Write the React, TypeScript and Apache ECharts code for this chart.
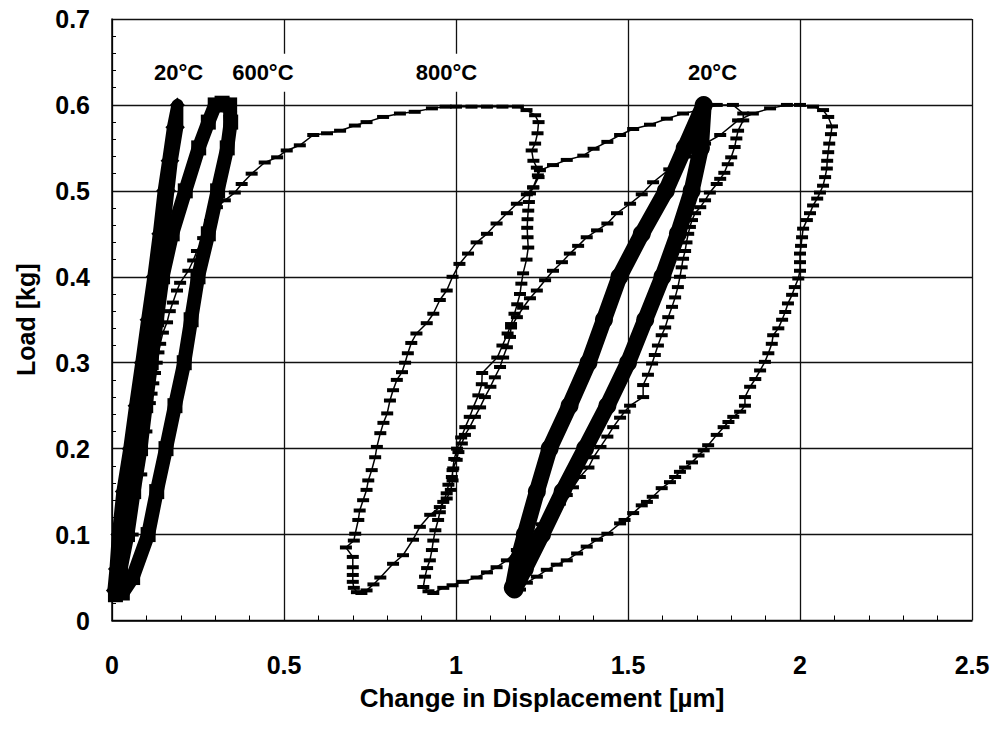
import React, { useEffect, useRef } from "react";
import * as echarts from "echarts";

const FONT = '"Liberation Sans", Arial, Helvetica, sans-serif';

// Load [kg] vs change in displacement [µm], one closed cycle per temperature step.
const loop20First: [number, number][] = [
  [0.004, 0.035], [0.01, 0.06], [0.017, 0.1], [0.03, 0.15], [0.05, 0.2], [0.067, 0.25],
  [0.085, 0.3], [0.102, 0.35], [0.12, 0.4], [0.136, 0.45], [0.15, 0.5], [0.163, 0.535],
  [0.177, 0.574], [0.19, 0.6], [0.19, 0.574], [0.174, 0.535], [0.164, 0.5], [0.152, 0.458],
  [0.136, 0.4], [0.118, 0.35], [0.101, 0.3], [0.083, 0.25], [0.066, 0.2], [0.047, 0.15],
  [0.033, 0.1], [0.018, 0.06], [0.012, 0.035],
];

const loop600: [number, number][] = [
  [0.01, 0.03], [0.025, 0.06], [0.045, 0.1], [0.063, 0.15], [0.083, 0.2], [0.098, 0.25],
  [0.114, 0.3], [0.13, 0.35], [0.147, 0.4], [0.175, 0.45], [0.213, 0.5], [0.252, 0.55],
  [0.28, 0.58], [0.3, 0.6], [0.32, 0.602], [0.342, 0.6], [0.345, 0.58], [0.335, 0.55],
  [0.307, 0.5], [0.28, 0.45], [0.25, 0.4], [0.23, 0.35], [0.21, 0.3], [0.183, 0.25],
  [0.157, 0.2], [0.13, 0.15], [0.105, 0.1], [0.06, 0.05], [0.03, 0.032],
];

const run800: [number, number][] = [
  // first loading
  [0.03, 0.035], [0.06, 0.1], [0.085, 0.17], [0.1, 0.22], [0.11, 0.253], [0.115, 0.264],
  [0.12, 0.276], [0.125, 0.288], [0.13, 0.3], [0.135, 0.312], [0.14, 0.322], [0.148, 0.335],
  [0.16, 0.347], [0.168, 0.36], [0.177, 0.37], [0.189, 0.384], [0.198, 0.393], [0.222, 0.407],
  [0.236, 0.419], [0.247, 0.43], [0.265, 0.445], [0.285, 0.465], [0.305, 0.481], [0.328, 0.489],
  [0.357, 0.498], [0.377, 0.508], [0.406, 0.52], [0.444, 0.533], [0.48, 0.539], [0.508, 0.547],
  [0.546, 0.553], [0.585, 0.565], [0.625, 0.567], [0.663, 0.57], [0.706, 0.576], [0.74, 0.58],
  [0.788, 0.586], [0.837, 0.59], [0.88, 0.592], [0.93, 0.596], [0.97, 0.598], [1.0, 0.598],
  [1.045, 0.598], [1.09, 0.598], [1.135, 0.598], [1.18, 0.598], [1.205, 0.594], [1.23, 0.588],
  // first unloading
  [1.24, 0.58], [1.237, 0.567], [1.23, 0.555], [1.22, 0.547], [1.225, 0.535], [1.235, 0.527],
  [1.24, 0.516], [1.225, 0.504], [1.215, 0.497], [1.212, 0.487], [1.21, 0.477], [1.208, 0.467],
  [1.207, 0.457], [1.208, 0.446], [1.21, 0.434], [1.205, 0.42], [1.195, 0.404], [1.19, 0.392],
  [1.186, 0.38], [1.178, 0.368], [1.17, 0.357], [1.16, 0.345], [1.15, 0.334], [1.135, 0.32],
  [1.12, 0.306], [1.076, 0.288], [1.075, 0.275], [1.065, 0.262], [1.05, 0.248], [1.04, 0.237],
  [1.027, 0.225], [1.015, 0.213], [1.003, 0.2], [0.995, 0.188], [0.99, 0.175], [0.99, 0.163],
  [0.985, 0.152], [0.973, 0.142], [0.953, 0.132], [0.925, 0.123], [0.895, 0.109], [0.875, 0.094],
  [0.846, 0.076], [0.817, 0.066], [0.78, 0.05], [0.76, 0.042], [0.74, 0.035], [0.725, 0.032],
  [0.712, 0.033], [0.703, 0.038], [0.7, 0.045], [0.7, 0.053], [0.7, 0.062], [0.7, 0.074],
  [0.68, 0.085], [0.703, 0.093],
  // second loading
  [0.707, 0.101], [0.716, 0.117], [0.72, 0.128], [0.73, 0.14], [0.74, 0.152], [0.745, 0.163],
  [0.755, 0.175], [0.765, 0.19], [0.77, 0.202], [0.78, 0.218], [0.789, 0.23], [0.8, 0.241],
  [0.808, 0.256], [0.817, 0.268], [0.828, 0.28], [0.843, 0.289], [0.852, 0.3], [0.86, 0.311],
  [0.87, 0.323], [0.885, 0.334], [0.915, 0.346], [0.934, 0.357], [0.953, 0.373], [0.973, 0.384],
  [0.99, 0.4], [1.01, 0.415], [1.035, 0.427], [1.06, 0.44], [1.09, 0.45], [1.118, 0.462],
  [1.148, 0.474], [1.177, 0.485], [1.206, 0.496], [1.224, 0.504], [1.238, 0.518], [1.244, 0.524],
  [1.282, 0.53], [1.322, 0.536], [1.37, 0.541], [1.4, 0.549], [1.44, 0.557], [1.477, 0.565],
  [1.515, 0.572], [1.564, 0.577], [1.613, 0.584], [1.66, 0.59], [1.71, 0.594], [1.758, 0.6],
  [1.805, 0.6], [1.835, 0.59],
  // second unloading
  [1.835, 0.582], [1.82, 0.57], [1.815, 0.561], [1.81, 0.551], [1.8, 0.539], [1.79, 0.531],
  [1.78, 0.521], [1.768, 0.514], [1.758, 0.508], [1.738, 0.498], [1.724, 0.489], [1.71, 0.481],
  [1.695, 0.474], [1.686, 0.466], [1.68, 0.458], [1.675, 0.45], [1.67, 0.44], [1.666, 0.43],
  [1.66, 0.421], [1.656, 0.411], [1.651, 0.4], [1.645, 0.388], [1.637, 0.376], [1.628, 0.365],
  [1.617, 0.353], [1.608, 0.341], [1.598, 0.332], [1.587, 0.32], [1.578, 0.309], [1.57, 0.299],
  [1.558, 0.286], [1.544, 0.274], [1.544, 0.26], [1.506, 0.25], [1.49, 0.243], [1.477, 0.236],
  [1.457, 0.225], [1.44, 0.214], [1.42, 0.202], [1.4, 0.19], [1.385, 0.178], [1.36, 0.167],
  [1.34, 0.155], [1.322, 0.146], [1.302, 0.136], [1.28, 0.126], [1.25, 0.112], [1.215, 0.097],
  [1.177, 0.082], [1.148, 0.07], [1.118, 0.062], [1.09, 0.056], [1.06, 0.05], [1.02, 0.045],
  [0.99, 0.041], [0.963, 0.038], [0.934, 0.032], [0.92, 0.034], [0.905, 0.039],
  // third loading
  [0.91, 0.051], [0.916, 0.061], [0.924, 0.07], [0.93, 0.082], [0.934, 0.093], [0.94, 0.105],
  [0.948, 0.117], [0.953, 0.126], [0.963, 0.138], [0.973, 0.148], [0.978, 0.158], [0.988, 0.167],
  [0.992, 0.177], [1.002, 0.187], [1.007, 0.196], [1.017, 0.206], [1.026, 0.216], [1.04, 0.225],
  [1.055, 0.237], [1.07, 0.248], [1.084, 0.26], [1.1, 0.272], [1.113, 0.283], [1.128, 0.295],
  [1.137, 0.306], [1.148, 0.318], [1.157, 0.33], [1.16, 0.341], [1.177, 0.353], [1.195, 0.364],
  [1.215, 0.375], [1.235, 0.384], [1.259, 0.396], [1.282, 0.407], [1.308, 0.417], [1.331, 0.427],
  [1.355, 0.436], [1.38, 0.446], [1.41, 0.454], [1.44, 0.462], [1.468, 0.474], [1.506, 0.485],
  [1.54, 0.496], [1.573, 0.51], [1.62, 0.525], [1.67, 0.54], [1.724, 0.555], [1.768, 0.565],
  [1.82, 0.582], [1.863, 0.59], [1.913, 0.596], [1.962, 0.6], [2.0, 0.6],
  // third unloading
  [2.038, 0.598], [2.067, 0.594], [2.082, 0.586], [2.093, 0.575], [2.09, 0.566], [2.085, 0.555],
  [2.082, 0.545], [2.079, 0.535], [2.078, 0.526], [2.073, 0.516], [2.067, 0.506], [2.058, 0.498],
  [2.05, 0.491], [2.038, 0.483], [2.029, 0.474], [2.02, 0.466], [2.009, 0.456], [2.006, 0.446],
  [2.003, 0.436], [2.0, 0.427], [2.0, 0.417], [2.0, 0.407], [1.995, 0.398], [1.985, 0.388],
  [1.977, 0.379], [1.965, 0.369], [1.957, 0.359], [1.948, 0.35], [1.937, 0.34], [1.922, 0.332],
  [1.918, 0.322], [1.908, 0.311], [1.898, 0.301], [1.884, 0.291], [1.87, 0.281], [1.855, 0.272],
  [1.84, 0.26], [1.84, 0.25], [1.826, 0.243], [1.806, 0.237], [1.792, 0.231], [1.778, 0.225],
  [1.758, 0.216], [1.733, 0.204], [1.72, 0.198], [1.705, 0.192], [1.686, 0.184], [1.666, 0.178],
  [1.651, 0.173], [1.637, 0.167], [1.622, 0.161], [1.598, 0.154], [1.572, 0.144], [1.555, 0.138],
  [1.54, 0.134], [1.515, 0.125], [1.49, 0.117], [1.477, 0.113], [1.44, 0.101], [1.41, 0.094],
  [1.38, 0.086], [1.352, 0.078], [1.322, 0.07], [1.293, 0.065], [1.264, 0.059], [1.235, 0.051],
  [1.206, 0.044], [1.186, 0.036],
];

const loop20Last: [number, number][] = [
  [1.165, 0.038], [1.18, 0.07], [1.2, 0.1], [1.235, 0.15], [1.272, 0.2], [1.33, 0.25],
  [1.385, 0.3], [1.43, 0.35], [1.475, 0.4], [1.54, 0.45], [1.61, 0.5], [1.665, 0.55],
  [1.72, 0.6], [1.712, 0.55], [1.685, 0.5], [1.645, 0.45], [1.6, 0.4], [1.55, 0.35],
  [1.5, 0.3], [1.44, 0.25], [1.375, 0.2], [1.31, 0.15], [1.25, 0.1], [1.2, 0.06], [1.17, 0.036],
];

const tempLabels = ["20°C", "600°C", "800°C", "20°C"];
const tempLabelX = [0.195, 0.44, 0.974, 1.747];
const tempLabelY = [0.637, 0.637, 0.637, 0.637];

const xTicks = { min: 0, max: 2.5, step: 0.5 };
const yTicks = { min: 0, max: 0.7, step: 0.1 };

export default function App() {
  const ref = useRef<HTMLDivElement>(null);

  useEffect(() => {
    const chart = echarts.init(ref.current!, null, { renderer: "svg" });
    const bold = { color: "#000", fontFamily: FONT, fontWeight: "bold" as const };

    chart.setOption({
      animation: false,
      backgroundColor: "#fff",
      grid: { left: 112, right: 24, top: 19, bottom: 110.5, containLabel: false },
      xAxis: {
        type: "value",
        min: xTicks.min,
        max: xTicks.max,
        interval: xTicks.step,
        name: "Change in Displacement [µm]",
        nameLocation: "middle",
        nameGap: 64,
        nameTextStyle: { ...bold, fontSize: 26 },
        axisLine: { show: true, onZero: false, lineStyle: { color: "#000", width: 1.5 } },
        axisTick: { show: false, inside: true },
        minorTick: { show: true, splitNumber: 5, length: 5, lineStyle: { color: "#000", width: 1 } },
        axisLabel: { ...bold, fontSize: 25, margin: 32 },
        splitLine: { show: true, lineStyle: { color: "#111", width: 1.3 } },
      },
      yAxis: {
        type: "value",
        min: yTicks.min,
        max: yTicks.max,
        interval: yTicks.step,
        name: "Load [kg]",
        nameLocation: "middle",
        nameGap: 74,
        nameRotate: 90,
        nameTextStyle: { ...bold, fontSize: 25 },
        axisLine: { show: true, onZero: false, lineStyle: { color: "#000", width: 1.5 } },
        axisTick: { show: false, inside: true },
        minorTick: { show: true, splitNumber: 5, length: 4, lineStyle: { color: "#000", width: 1 } },
        axisLabel: { ...bold, fontSize: 25, margin: 22 },
        splitLine: { show: true, lineStyle: { color: "#111", width: 1.3 } },
      },
      series: [
        {
          name: "20°C",
          type: "line",
          data: loop20First,
          clip: false,
          showAllSymbol: true,
          symbol: "diamond",
          symbolSize: 15,
          itemStyle: { color: "#000" },
          lineStyle: { color: "#000", width: 12, cap: "round", join: "round" },
        },
        {
          name: "600°C",
          type: "line",
          data: loop600,
          clip: false,
          showAllSymbol: true,
          symbol: "rect",
          symbolSize: 15,
          itemStyle: { color: "#000" },
          lineStyle: { color: "#000", width: 14, cap: "round", join: "round" },
        },
        {
          name: "800°C",
          type: "line",
          data: run800,
          clip: false,
          showAllSymbol: true,
          symbol: "rect",
          symbolSize: [12, 4],
          itemStyle: { color: "#000" },
          lineStyle: { color: "#000", width: 1.5 },
        },
        {
          name: "20°C (after)",
          type: "line",
          data: loop20Last,
          clip: false,
          showAllSymbol: true,
          symbol: "circle",
          symbolSize: 18,
          itemStyle: { color: "#000" },
          lineStyle: { color: "#000", width: 16, cap: "round", join: "round" },
        },
        {
          type: "scatter",
          silent: true,
          symbol: "circle",
          symbolSize: 1,
          itemStyle: { color: "rgba(0,0,0,0)", opacity: 1 },
          data: tempLabels.map((t, i) => ({ name: t, value: [tempLabelX[i], tempLabelY[i]] })),
          label: {
            show: true,
            position: [0, 0],
            align: "center",
            verticalAlign: "middle",
            formatter: (p: any) => p.name,
            ...bold,
            color: "#000",
            opacity: 1,
            textBorderWidth: 0,
            fontSize: 22,
            backgroundColor: "#fff",
            padding: [8, 2],
          },
          z: 10,
        },
      ],
    });

    return () => chart.dispose();
  }, []);

  return (
    <div
      ref={ref}
      style={{ position: "fixed", left: 0, top: 0, width: 996, height: 731, background: "#fff" }}
    />
  );
}
